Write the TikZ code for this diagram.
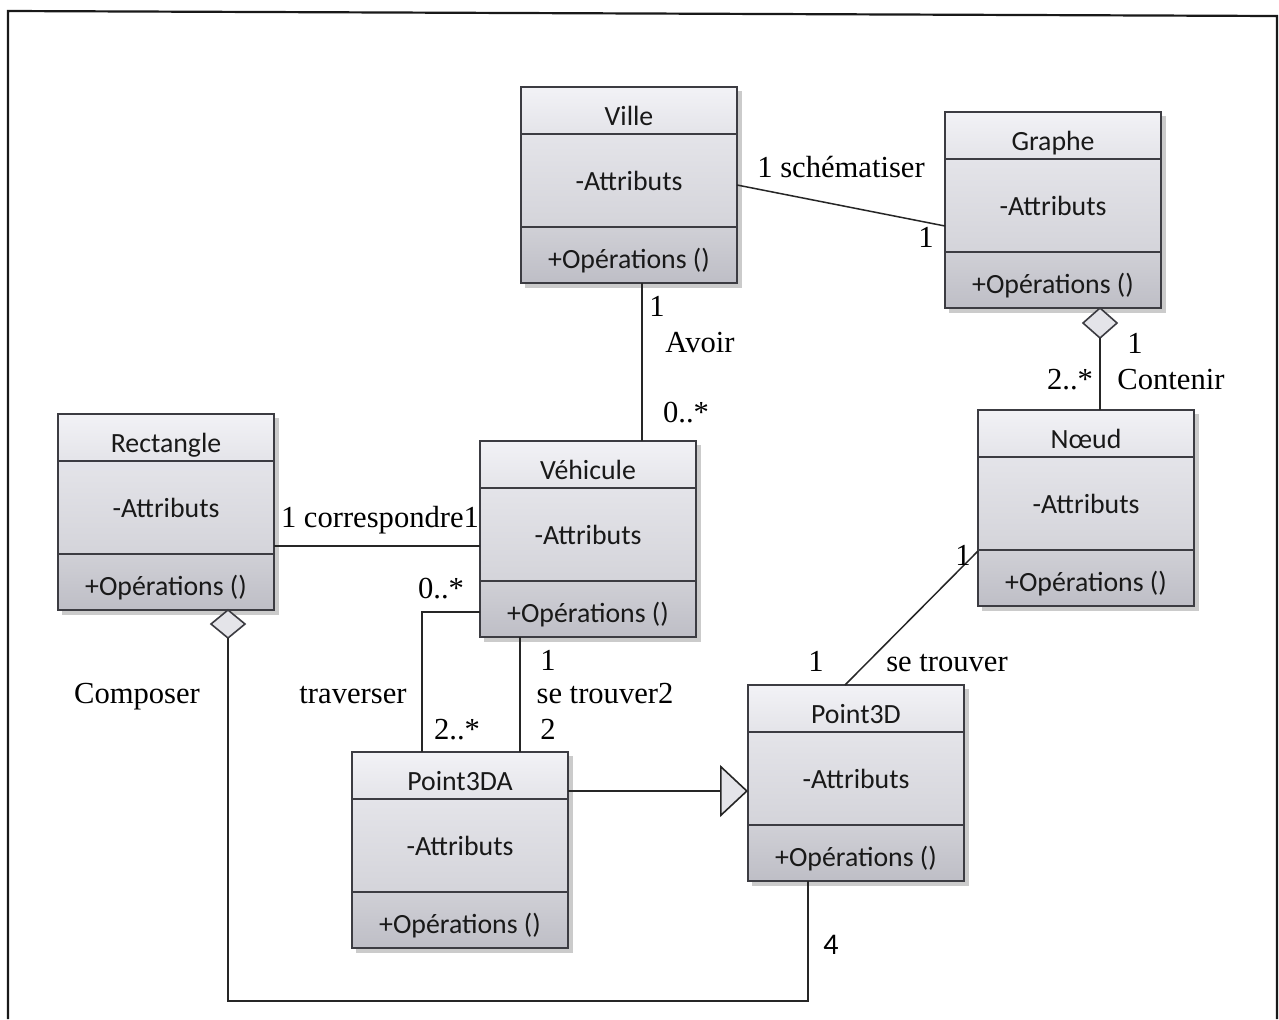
\documentclass[tikz,border=0pt]{standalone}
\usepackage{fontspec}
\setmainfont{Liberation Serif}
\newfontfamily\boxfont{Carlito}
\usetikzlibrary{calc,shapes.geometric,arrows.meta}

% compartment shades (light to dark, top to bottom)
\definecolor{hdrA}{RGB}{242,242,246}
\definecolor{hdrB}{RGB}{228,228,233}
\definecolor{attA}{RGB}{228,228,233}
\definecolor{attB}{RGB}{212,212,218}
\definecolor{opsA}{RGB}{208,208,214}
\definecolor{opsB}{RGB}{190,190,198}
\definecolor{boxline}{RGB}{60,60,66}

\tikzset{
  classframe/.style={draw=boxline, line width=0.9pt, minimum width=108pt,
    minimum height=98pt, anchor=north west, inner sep=0pt, outer sep=0pt},
  boxtext/.style={font=\boxfont\fontsize{13.9}{16}\selectfont, anchor=base,
    inner sep=0pt, text=black!90},
  lab/.style={font=\fontsize{15.3}{18}\selectfont, anchor=base, inner sep=0pt},
  assoc/.style={draw=black!85, line width=0.75pt},
  aggd/.style={diamond, draw=boxline, line width=0.8pt, fill=hdrB,
    minimum width=17pt, minimum height=15pt, inner sep=0pt, outer sep=0pt}
}

% UML class: #1 node name, #2 left, #3 top, #4 class name
\newcommand{\umlclass}[4]{%
  \fill[black!45, opacity=0.45] ($(#2,#3)+(4,4)$) rectangle ($(#2,#3)+(221,201)$);
  \shade[top color=hdrA, bottom color=hdrB] (#2,#3) rectangle ($(#2,#3)+(216,47)$);
  \shade[top color=attA, bottom color=attB] ($(#2,#3)+(0,47)$) rectangle ($(#2,#3)+(216,140)$);
  \shade[top color=opsA, bottom color=opsB] ($(#2,#3)+(0,140)$) rectangle ($(#2,#3)+(216,196)$);
  \node[classframe] (#1) at (#2,#3) {};
  \draw[draw=boxline, line width=0.9pt] ($(#1.north west)+(0,47)$) -- ($(#1.north east)+(0,47)$);
  \draw[draw=boxline, line width=0.9pt] ($(#1.north west)+(0,140)$) -- ($(#1.north east)+(0,140)$);
  \node[boxtext] at ($(#1.north)+(0,38)$) {#4};
  \node[boxtext] at ($(#1.north)+(0,103)$) {-Attributs};
  \node[boxtext] at ($(#1.north)+(0,181)$) {+Opérations ()};
}

\begin{document}
\begin{tikzpicture}[x=0.5pt, y=-0.5pt]
\useasboundingbox (0,0) rectangle (1279,1019);
\fill[white] (0,0) rectangle (1279,1019);

% page frame
\draw[line width=1.1pt, black!90] (8,1019) -- (8,11) -- (1277,16) -- (1277,1019);

% classes
\umlclass{ville}{521}{87}{Ville}
\umlclass{graphe}{945}{112}{Graphe}
\umlclass{rectangle}{58}{414}{Rectangle}
\umlclass{vehicule}{480}{441}{Véhicule}
\umlclass{noeud}{978}{410}{Nœud}
\umlclass{point3d}{748}{685}{Point3D}
\umlclass{point3da}{352}{752}{Point3DA}

% Ville -- Graphe : schematiser
\draw[assoc] (ville.east) -- (graphe.west |- 0,226);
\node[lab] at (841,177) {1 schématiser};
\node[lab] at (926,247) {1};

% Ville -- Vehicule : Avoir
\draw[assoc] (ville.south -| 642,0) -- (vehicule.north -| 642,0);
\node[lab] at (657,316) {1};
\node[lab] at (700,352) {Avoir};
\node[lab] at (686,422) {0..*};

% Graphe <>-- Noeud : Contenir
\node[aggd, anchor=north] (gd) at (graphe.south -| 1100,0) {};
\draw[assoc] (gd.south) -- (noeud.north -| 1100,0);
\node[lab] at (1135,353) {1};
\node[lab] at (1070,389) {2..*};
\node[lab] at (1171,389) {Contenir};

% Rectangle -- Vehicule : correspondre
\draw[assoc] (rectangle.east |- 0,546) -- (vehicule.west |- 0,546);
\node[lab] at (380,527) {1 correspondre1};

% Vehicule -- Point3DA : traverser
\draw[assoc] (vehicule.west |- 0,612) -| (point3da.north -| 422,0);
\node[lab] at (441,598) {0..*};
\node[lab] at (353,703) {traverser};
\node[lab] at (457,739) {2..*};

% Vehicule -- Point3DA : se trouver2
\draw[assoc] (vehicule.south -| 520,0) -- (point3da.north -| 520,0);
\node[lab] at (548,670) {1};
\node[lab] at (605,703) {se trouver2};
\node[lab] at (548,739) {2};

% Noeud -- Point3D : se trouver
\draw[assoc] (noeud.west |- 0,551) -- (point3d.north -| 845,0);
\node[lab] at (963,565) {1};
\node[lab] at (816,671) {1};
\node[lab] at (947,671) {se trouver};

% Point3DA inherits from Point3D
\draw[assoc, -{Triangle[length=14pt, width=26pt, fill=hdrB, line width=0.8pt]}]
  (point3da.east |- 0,791) -- (point3d.west |- 0,791);

% Rectangle <>-- Point3D : Composer
\node[aggd, anchor=north, minimum height=14pt] (rd) at (rectangle.south -| 228,0) {};
\draw[assoc] (rd.south) |- ($(point3d.south -| 808,0)+(0,120)$) -- (point3d.south -| 808,0);
\node[lab] at (137,703) {Composer};
\node[lab, font=\boxfont\fontsize{15}{18}\selectfont] at (831,954) {4};
\end{tikzpicture}
\end{document}
